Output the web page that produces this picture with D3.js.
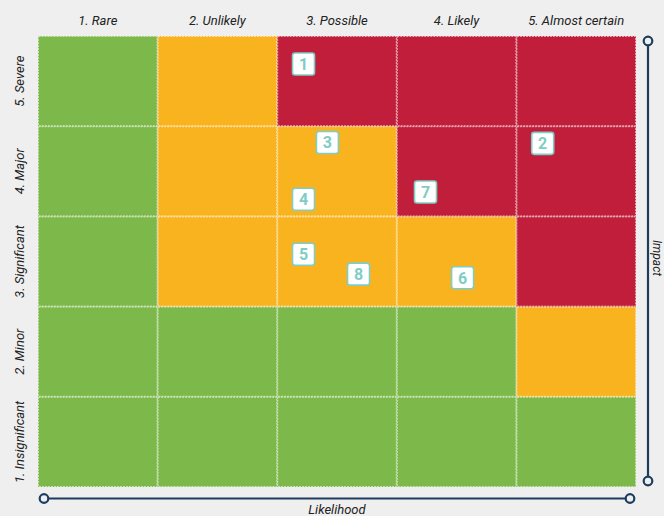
<!DOCTYPE html>
<html>
<head>
<meta charset="utf-8">
<script src="https://cdn.jsdelivr.net/npm/d3@7"></script>
<style>
  html, body { margin: 0; padding: 0; background: #efefef; }
  svg { display: block; font-family: Roboto, "Open Sans", sans-serif; }
</style>
</head>
<body>
<div id="chart"></div>
<script>
// axis categories
const likelihood = ['1. Rare', '2. Unlikely', '3. Possible', '4. Likely', '5. Almost certain'];
const impact = ['1. Insignificant', '2. Minor', '3. Significant', '4. Major', '5. Severe'];

// rating per cell, rows = impact 1..5, cols = likelihood 1..5
const ratings = [
  ['low', 'low', 'low', 'low', 'low'],
  ['low', 'low', 'low', 'low', 'medium'],
  ['low', 'medium', 'medium', 'medium', 'high'],
  ['low', 'medium', 'medium', 'high', 'high'],
  ['low', 'medium', 'high', 'high', 'high']
];

// plotted risks (likelihood / impact on a 1..5 scale)
const riskIds = [1, 2, 3, 4, 5, 6, 7, 8];
const riskLikelihood = [2.72, 4.72, 2.92, 2.72, 2.72, 4.05, 3.74, 3.18];
const riskImpact = [5.19, 4.31, 4.32, 3.69, 3.08, 2.82, 3.77, 2.86];

const colors = { low: '#7cb94a', medium: '#f9b31e', high: '#c01e3b' };
const navy = '#1c3d5e';
const teal = '#7fcdc5';

const width = 664, height = 516;
const margin = { top: 36, right: 28, bottom: 29, left: 38 };

const svg = d3.select('#chart').append('svg')
  .attr('width', width)
  .attr('height', height);

// band scales for the cells
const x = d3.scaleBand()
  .domain(likelihood)
  .range([margin.left, width - margin.right]);
const y = d3.scaleBand()
  .domain(impact.slice().reverse())
  .range([margin.top, height - margin.bottom]);

// continuous scales for markers, same extent as the bands
const xl = d3.scaleLinear().domain([0.5, 5.5]).range(x.range());
const yl = d3.scaleLinear().domain([0.5, 5.5]).range([height - margin.bottom, margin.top]);

// flatten the grid
const cells = [];
ratings.forEach((row, r) => row.forEach((v, c) => {
  cells.push({ imp: impact[r], lik: likelihood[c], v: v });
}));

svg.append('g').selectAll('rect').data(cells).enter()
  .append('rect')
  .attr('x', d => x(d.lik))
  .attr('y', d => y(d.imp))
  .attr('width', x.bandwidth())
  .attr('height', y.bandwidth())
  .attr('fill', d => colors[d.v]);

// dashed white cell outlines
svg.append('g').selectAll('rect').data(cells).enter()
  .append('rect')
  .attr('x', d => x(d.lik) + 0.5)
  .attr('y', d => y(d.imp) + 0.5)
  .attr('width', x.bandwidth() - 1)
  .attr('height', y.bandwidth() - 1)
  .attr('fill', 'none')
  .attr('stroke', '#ffffff')
  .attr('stroke-opacity', 0.75)
  .attr('stroke-width', 0.8)
  .attr('stroke-dasharray', '2,1');

// top labels
svg.append('g').selectAll('text').data(likelihood).enter()
  .append('text')
  .attr('x', d => x(d) + x.bandwidth() / 2)
  .attr('y', 25)
  .attr('text-anchor', 'middle')
  .attr('font-size', 13)
  .attr('font-style', 'italic')
  .attr('fill', '#222')
  .text(d => d);

// left labels
svg.append('g').selectAll('text').data(impact).enter()
  .append('text')
  .attr('transform', d => `translate(24,${y(d) + y.bandwidth() / 2}) rotate(-90)`)
  .attr('text-anchor', 'middle')
  .attr('font-size', 13)
  .attr('font-style', 'italic')
  .attr('fill', '#222')
  .text(d => d);

// axis arrows
const inset = 6;
const bx0 = xl(0.5) + inset, bx1 = xl(5.5) - inset, by = 498.5;
const rx = 648, ry0 = yl(5.5) + 5, ry1 = yl(0.5) - 6;
const axes = svg.append('g').attr('stroke', navy).attr('stroke-width', 2.2);
axes.append('line').attr('x1', bx0).attr('x2', bx1).attr('y1', by).attr('y2', by);
axes.append('line').attr('x1', rx).attr('x2', rx).attr('y1', ry0).attr('y2', ry1);
axes.selectAll('circle')
  .data([[bx0, by], [bx1, by], [rx, ry0], [rx, ry1]])
  .enter().append('circle')
  .attr('cx', d => d[0])
  .attr('cy', d => d[1])
  .attr('r', 4.3)
  .attr('fill', '#efefef');

svg.append('text')
  .attr('x', (bx0 + bx1) / 2)
  .attr('y', 514)
  .attr('text-anchor', 'middle')
  .attr('font-size', 13)
  .attr('font-style', 'italic')
  .attr('fill', '#222')
  .text('Likelihood');

svg.append('text')
  .attr('transform', `translate(653,${(ry0 + ry1) / 2 - 3}) rotate(90)`)
  .attr('text-anchor', 'middle')
  .attr('font-size', 12)
  .attr('font-style', 'italic')
  .attr('fill', '#222')
  .text('Impact');

// risk markers
const risks = riskIds.map((id, i) => ({ id: id, l: riskLikelihood[i], im: riskImpact[i] }));
const box = 22;
const markers = svg.append('g').selectAll('g').data(risks).enter()
  .append('g')
  .attr('transform', d => `translate(${xl(d.l)},${yl(d.im)})`);
markers.append('rect')
  .attr('x', -box / 2)
  .attr('y', -box / 2)
  .attr('width', box)
  .attr('height', box)
  .attr('rx', 2.5)
  .attr('fill', '#ffffff')
  .attr('stroke', teal)
  .attr('stroke-width', 1.6);
markers.append('text')
  .attr('text-anchor', 'middle')
  .attr('dy', '0.36em')
  .attr('font-size', 16)
  .attr('font-weight', 'bold')
  .attr('fill', teal)
  .text(d => d.id);
</script>
</body>
</html>
